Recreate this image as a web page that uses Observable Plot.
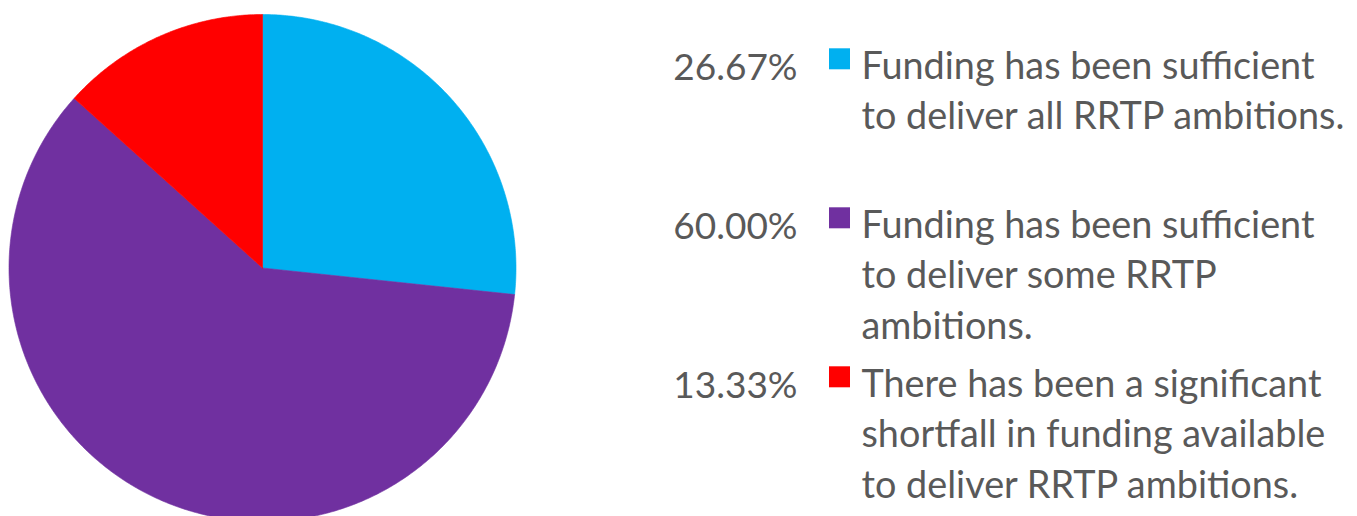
<!DOCTYPE html>
<html>
<head>
<meta charset="utf-8">
<script src="https://cdn.jsdelivr.net/npm/d3@7"></script>
<script src="https://cdn.jsdelivr.net/npm/@observablehq/plot@0.6"></script>
<style>
  html, body { margin: 0; padding: 0; background: #ffffff; }
  #wrap { display: flex; width: 1357px; height: 516px; overflow: hidden; }
  #wrap svg { display: block; }
</style>
</head>
<body>
<div id="wrap"></div>
<script>
// ---- data ----
const categories = [
  "Funding has been sufficient to deliver all RRTP ambitions.",
  "Funding has been sufficient to deliver some RRTP ambitions.",
  "There has been a significant shortfall in funding available to deliver RRTP ambitions."
];
const shares = [26.67, 60.00, 13.33];
const percentLabels = ["26.67%", "60.00%", "13.33%"];
const legendLines = [
  "Funding has been sufficient\nto deliver all RRTP ambitions.",
  "Funding has been sufficient\nto deliver some RRTP\nambitions.",
  "There has been a significant\nshortfall in funding available\nto deliver RRTP ambitions."
];
const colors = ["#00B0F0", "#7030A0", "#FF0000"];

// ---- pie geometry (unit circle, data space) ----
const arcs = d3.pie().sort(null).value(d => d)(shares);
const slicePts = [];
arcs.forEach((a, i) => {
  const cat = categories[i];
  slicePts.push({cat, x: 0, y: 0});
  const n = Math.max(2, Math.ceil((a.endAngle - a.startAngle) / (Math.PI / 360)));
  for (let k = 0; k <= n; k++) {
    const t = a.startAngle + (a.endAngle - a.startAngle) * k / n;
    slicePts.push({cat, x: Math.sin(t), y: Math.cos(t)});
  }
  slicePts.push({cat, x: 0, y: 0});
});

const colorScale = {domain: categories, range: colors};
const font = "Lato, 'Open Sans', sans-serif";

const pie = Plot.plot({
  width: 540,
  height: 516,
  margin: 0,
  x: {domain: [-1, 1], range: [8.5, 515.5], axis: null},
  y: {domain: [-1, 1], range: [521, 14], axis: null},
  color: colorScale,
  marks: [
    Plot.line(slicePts, {x: "x", y: "y", z: "cat", fill: "cat", stroke: "cat", strokeWidth: 0.6, curve: "linear"})
  ]
});

const legendData = categories.map((c, i) => ({cat: c, pct: percentLabels[i], text: legendLines[i]}));

const legend = Plot.plot({
  width: 817,
  height: 516,
  margin: 0,
  y: {type: "point", domain: categories, range: [42.7, 361.7], padding: 0, axis: null},
  color: colorScale,
  style: {fontFamily: font},
  marks: [
    Plot.text(legendData, {y: "cat", text: "pct", frameAnchor: "left", dx: 257, dy: 10, textAnchor: "end", lineAnchor: "top", fontSize: 37, fill: "#595959"}),
    Plot.dot(legendData, {y: "cat", frameAnchor: "left", dx: 299, dy: 15.3, symbol: "square", r: 11.85, fill: "cat", stroke: "none"}),
    Plot.text(legendData, {y: "cat", text: "text", frameAnchor: "left", dx: 321, textAnchor: "start", lineAnchor: "top", lineHeight: 1.33, fontSize: 37.8, fill: "#595959"})
  ]
});

const wrap = document.getElementById("wrap");
wrap.appendChild(pie);
wrap.appendChild(legend);
</script>
</body>
</html>
